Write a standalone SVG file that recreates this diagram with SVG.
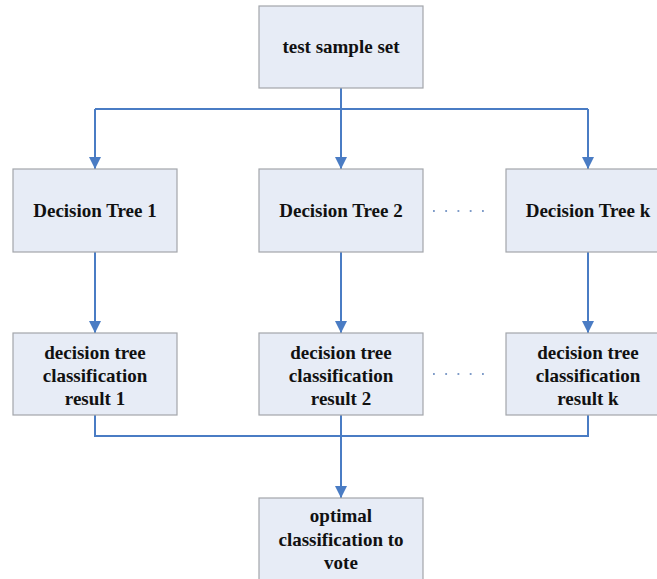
<svg xmlns="http://www.w3.org/2000/svg" width="657" height="579" viewBox="0 0 657 579">
<defs>
<style>
.box{fill:#e7ecf6;stroke:#a3a6ab;stroke-width:1.2}
.t{font-family:"Liberation Serif",serif;font-weight:bold;font-size:19px;fill:#111;text-anchor:middle}
.c{fill:none;stroke:#4a7cc4;stroke-width:2}
.dot{fill:none;stroke:#7f9cc8;stroke-width:1.8;stroke-dasharray:1.8 10.45}
</style>
<marker id="ah" viewBox="0 0 12 12" refX="12" refY="6" markerWidth="12" markerHeight="12" markerUnits="userSpaceOnUse" orient="auto">
<path d="M0,0 L12,6 L0,12 Z" fill="#4a7cc4"/>
</marker>
</defs>
<rect width="657" height="579" fill="#fff"/>
<g id="connectors">
<path class="c" d="M341,88 V109"/>
<path class="c" d="M95,109 H588"/>
<path class="c" d="M95,109 V169" marker-end="url(#ah)"/>
<path class="c" d="M341,109 V169" marker-end="url(#ah)"/>
<path class="c" d="M588,109 V169" marker-end="url(#ah)"/>
<path class="c" d="M95,252 V333" marker-end="url(#ah)"/>
<path class="c" d="M341,252 V333" marker-end="url(#ah)"/>
<path class="c" d="M588,252 V333" marker-end="url(#ah)"/>
<path class="c" d="M95,415 V436 H588 V415"/>
<path class="c" d="M341,415 V498" marker-end="url(#ah)"/>
<path class="dot" d="M433,211 H485"/>
<path class="dot" d="M433,374 H485"/>
</g>
<g id="test"><rect class="box" x="259" y="6" width="164" height="82"/><text class="t" x="341" y="53">test sample set</text></g>
<g id="tree1"><rect class="box" x="13" y="169" width="164" height="83"/><text class="t" x="95" y="217">Decision Tree 1</text></g>
<g id="tree2"><rect class="box" x="259" y="169" width="164" height="83"/><text class="t" x="341" y="217">Decision Tree 2</text></g>
<g id="treek"><rect class="box" x="506" y="169" width="164" height="83"/><text class="t" x="588" y="217">Decision Tree k</text></g>
<g id="res1"><rect class="box" x="13" y="333" width="164" height="82"/><text class="t" x="95" y="359">decision tree</text><text class="t" x="95" y="382">classification</text><text class="t" x="95" y="405">result 1</text></g>
<g id="res2"><rect class="box" x="259" y="333" width="164" height="82"/><text class="t" x="341" y="359">decision tree</text><text class="t" x="341" y="382">classification</text><text class="t" x="341" y="405">result 2</text></g>
<g id="resk"><rect class="box" x="506" y="333" width="164" height="82"/><text class="t" x="588" y="359">decision tree</text><text class="t" x="588" y="382">classification</text><text class="t" x="588" y="405">result k</text></g>
<g id="vote"><rect class="box" x="259" y="498" width="164" height="90"/><text class="t" x="341" y="522">optimal</text><text class="t" x="341" y="546">classification to</text><text class="t" x="341" y="569">vote</text></g>
</svg>
